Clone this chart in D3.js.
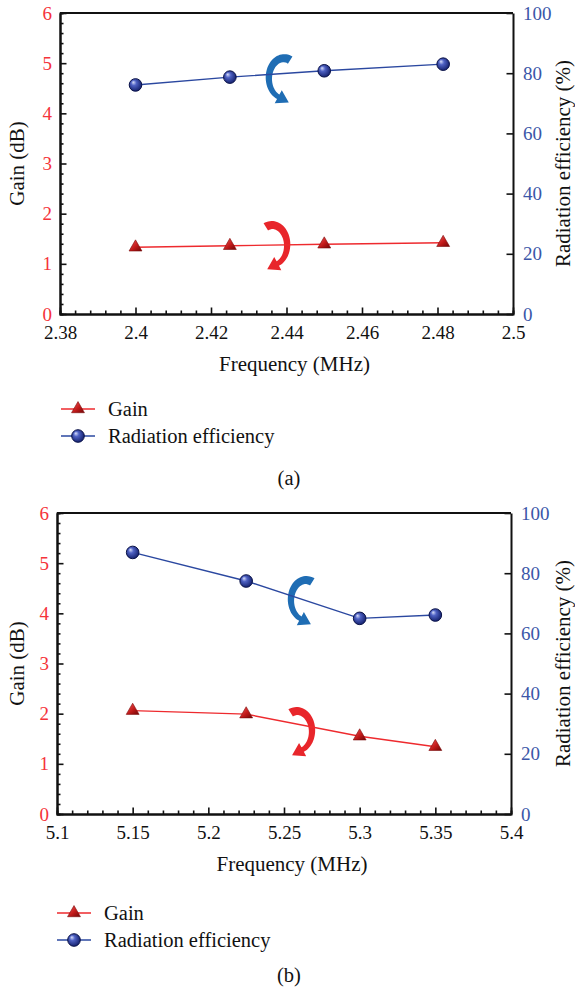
<!DOCTYPE html>
<html>
<head>
<meta charset="utf-8">
<script src="https://cdn.jsdelivr.net/npm/d3@7"></script>
</head>
<body style="margin:0;background:#fff">
<script>
// (a) 2.4 GHz band
const freqA = [2.4, 2.425, 2.45, 2.4815];
const gainA = [1.33, 1.36, 1.39, 1.42];
const effA = [76.1, 78.7, 80.8, 83.0];
// (b) 5 GHz band
const freqB = [5.15, 5.225, 5.3, 5.35];
const gainB = [2.06, 1.99, 1.55, 1.34];
const effB = [86.9, 77.4, 65.0, 66.1];

const gainTicks = [0, 1, 2, 3, 4, 5, 6];
const effTicks = [0, 20, 40, 60, 80, 100];
const freqTicksA = [2.38, 2.4, 2.42, 2.44, 2.46, 2.48, 2.5];
const freqTicksB = [5.1, 5.15, 5.2, 5.25, 5.3, 5.35, 5.4];
const legendLabels = ['Gain', 'Radiation efficiency'];
const panelLabels = ['(a)', '(b)'];

const red = '#ee2a2e', blue = '#2b48a0';
const redText = '#f5333a', blueText = '#3b56a8';
const font = "'Liberation Serif'";

const svg = d3.select('body').append('svg').attr('width', 575).attr('height', 994)
  .attr('font-family', font);
const defs = svg.append('defs');

const ball = defs.append('radialGradient').attr('id', 'ball')
  .attr('cx', '45%').attr('cy', '45%').attr('r', '60%').attr('fx', '32%').attr('fy', '28%');
ball.append('stop').attr('offset', '0%').attr('stop-color', '#d8defa');
ball.append('stop').attr('offset', '35%').attr('stop-color', '#4f62c4');
ball.append('stop').attr('offset', '100%').attr('stop-color', '#0f1b66');

const tri = defs.append('linearGradient').attr('id', 'tri')
  .attr('x1', '0%').attr('y1', '0%').attr('x2', '100%').attr('y2', '100%');
tri.append('stop').attr('offset', '0%').attr('stop-color', '#f45a5a');
tri.append('stop').attr('offset', '55%').attr('stop-color', '#c21a1a');
tri.append('stop').attr('offset', '100%').attr('stop-color', '#6e0606');

const triangle = d3.symbol(d3.symbolTriangle, 72)();

function bentArrow(g, cx, cy, a) {
  const rad = Math.PI / 180, n = 40, dir = Math.sign(a.a1 - a.a0);
  const left = [], right = [];
  let end, tan;
  for (let i = 0; i <= n; i++) {
    const t = i / n, ang = (a.a0 + (a.a1 - a.a0) * t) * rad;
    const px = cx + a.rx * Math.cos(ang), py = cy + a.ry * Math.sin(ang);
    let dx = -a.rx * Math.sin(ang) * dir, dy = a.ry * Math.cos(ang) * dir;
    const len = Math.hypot(dx, dy);
    dx /= len; dy /= len;
    const w = (a.w0 + (a.w1 - a.w0) * t) / 2;
    left.push([px - dy * w, py + dx * w]);
    right.push([px + dy * w, py - dx * w]);
    end = [px, py]; tan = [dx, dy];
  }
  const head = [
    [end[0] - tan[1] * a.hw, end[1] + tan[0] * a.hw],
    [end[0] + tan[0] * a.hl, end[1] + tan[1] * a.hl],
    [end[0] + tan[1] * a.hw, end[1] - tan[0] * a.hw]
  ];
  const pts = left.concat(head, right.reverse());
  g.append('path').attr('d', d3.line()(pts) + 'Z').attr('fill', a.color);
}

function panel(o) {
  const g = svg.append('g');
  const x = d3.scaleLinear().domain(o.xDomain).range([o.left, o.right]);
  const y = d3.scaleLinear().domain([0, 6]).range([o.bottom, o.top]);
  const yR = d3.scaleLinear().domain([0, 100]).range([o.bottom, o.top]);

  // minor ticks
  const minorY = d3.range(0, 31).filter(i => i % 5).map(i => i * 0.2);
  const steps = Math.round((o.xDomain[1] - o.xDomain[0]) / o.xMinor);
  const minorX = d3.range(0, steps + 1).filter(i => i % 5).map(i => o.xDomain[0] + i * o.xMinor);

  g.append('g').attr('transform', `translate(${o.left},0)`)
    .call(d3.axisLeft(y).tickValues(minorY).tickSize(-3.5).tickFormat(''));
  g.append('g').attr('transform', `translate(0,${o.bottom})`)
    .call(d3.axisBottom(x).tickValues(minorX).tickSize(-3.5).tickFormat(''));

  const yAxis = g.append('g').attr('class', 'axis y')
    .attr('transform', `translate(${o.left},0)`)
    .call(d3.axisLeft(y).tickValues(gainTicks).tickSizeInner(-6.5).tickSizeOuter(0).tickPadding(8)
      .tickFormat(d => String(d)));
  yAxis.selectAll('text').attr('fill', redText);

  const yRAxis = g.append('g').attr('class', 'axis yr')
    .attr('transform', `translate(${o.right},0)`)
    .call(d3.axisRight(yR).tickValues(effTicks).tickSizeInner(-6.5).tickSizeOuter(0).tickPadding(10)
      .tickFormat(d => String(d)));
  yRAxis.selectAll('text').attr('fill', blueText);

  g.append('g').attr('class', 'axis x')
    .attr('transform', `translate(0,${o.bottom})`)
    .call(d3.axisBottom(x).tickValues(o.xTicks).tickSizeInner(-6.5).tickSizeOuter(0).tickPadding(12)
      .tickFormat(d => String(d)));

  g.append('line').attr('x1', o.left).attr('x2', o.right).attr('y1', o.top).attr('y2', o.top);

  g.selectAll('g').attr('font-family', font).attr('font-size', 19);
  g.selectAll('.tick line').attr('stroke', '#111').attr('stroke-width', 1.6);
  g.selectAll('.domain').attr('stroke', '#111').attr('stroke-width', 2);
  g.selectAll('line').filter(function () { return !this.closest('.tick'); })
    .attr('stroke', '#111').attr('stroke-width', 2);
  g.selectAll('.axis.x .tick text').attr('fill', '#111');

  // arrows (behind the lines)
  bentArrow(g, x(o.blueArrow[0]), y(o.blueArrow[1]),
    {rx: 15, ry: 20, a0: -65, a1: -248, w0: 8.5, w1: 5, hw: 7.5, hl: 12, color: '#1f6db4'});
  bentArrow(g, x(o.redArrow[0]), y(o.redArrow[1]),
    {rx: 15, ry: 20, a0: -115, a1: 68, w0: 8.5, w1: 5, hw: 7.5, hl: 12, color: '#e8262b'});

  const idx = d3.range(o.freq.length);
  g.append('path')
    .attr('d', d3.line().x(i => x(o.freq[i])).y(i => yR(o.eff[i]))(idx))
    .attr('fill', 'none').attr('stroke', blue).attr('stroke-width', 1.4);
  g.append('path')
    .attr('d', d3.line().x(i => x(o.freq[i])).y(i => y(o.gain[i]))(idx))
    .attr('fill', 'none').attr('stroke', red).attr('stroke-width', 1.4);

  g.selectAll('.tri').data(idx).join('path').attr('class', 'tri')
    .attr('d', triangle)
    .attr('transform', i => `translate(${x(o.freq[i])},${y(o.gain[i])})`)
    .attr('fill', 'url(#tri)').attr('stroke', '#7a0b0b').attr('stroke-width', 0.6);
  g.selectAll('.ball').data(idx).join('circle').attr('class', 'ball')
    .attr('cx', i => x(o.freq[i])).attr('cy', i => yR(o.eff[i])).attr('r', 6.3)
    .attr('fill', 'url(#ball)').attr('stroke', '#0a1248').attr('stroke-width', 1);

  // axis titles
  const midY = (o.top + o.bottom) / 2;
  g.append('text').attr('transform', `translate(24,${midY}) rotate(-90)`)
    .attr('text-anchor', 'middle').attr('font-size', 21).attr('fill', '#111').text('Gain (dB)');
  g.append('text').attr('transform', `translate(570,${midY}) rotate(-90)`)
    .attr('text-anchor', 'middle').attr('font-size', 21).attr('fill', '#111').text('Radiation efficiency (%)');
  g.append('text').attr('x', (o.left + o.right) / 2 + 8).attr('y', o.bottom + 57)
    .attr('text-anchor', 'middle').attr('font-size', 21).attr('fill', '#111').text('Frequency (MHz)');

  // legend
  const lg = g.append('g').attr('transform', `translate(${o.legX},${o.legY})`).attr('font-size', 20.5);
  lg.append('line').attr('x1', 0).attr('x2', 34).attr('y1', 0).attr('y2', 0)
    .attr('stroke', red).attr('stroke-width', 1.4);
  lg.append('path').attr('d', triangle).attr('transform', 'translate(17,0)')
    .attr('fill', 'url(#tri)').attr('stroke', '#7a0b0b').attr('stroke-width', 0.6);
  lg.append('line').attr('x1', 0).attr('x2', 34).attr('y1', 27).attr('y2', 27)
    .attr('stroke', blue).attr('stroke-width', 1.4);
  lg.append('circle').attr('cx', 17).attr('cy', 27).attr('r', 6.3)
    .attr('fill', 'url(#ball)').attr('stroke', '#0a1248').attr('stroke-width', 1);
  lg.selectAll('.lt').data(legendLabels).join('text').attr('class', 'lt')
    .attr('x', 47).attr('y', (d, i) => i * 27 + 7)
    .attr('font-size', 20.5).attr('fill', '#111').text(d => d);

  g.append('text').attr('x', 289).attr('y', o.labelY).attr('text-anchor', 'middle')
    .attr('font-size', 20.5).attr('fill', '#111').text(o.label);
}

panel({
  freq: freqA, gain: gainA, eff: effA,
  xDomain: [2.38, 2.5], xTicks: freqTicksA, xMinor: 0.004,
  left: 60, right: 513, top: 13, bottom: 314,
  blueArrow: [2.4393, 4.70], redArrow: [2.4362, 1.375],
  legX: 61, legY: 409, label: panelLabels[0], labelY: 485
});
panel({
  freq: freqB, gain: gainB, eff: effB,
  xDomain: [5.1, 5.4], xTicks: freqTicksB, xMinor: 0.01,
  left: 57, right: 511, top: 513, bottom: 814,
  blueArrow: [5.2645, 4.265], redArrow: [5.2586, 1.654],
  legX: 57, legY: 913, label: panelLabels[1], labelY: 982
});
</script>
</body>
</html>
